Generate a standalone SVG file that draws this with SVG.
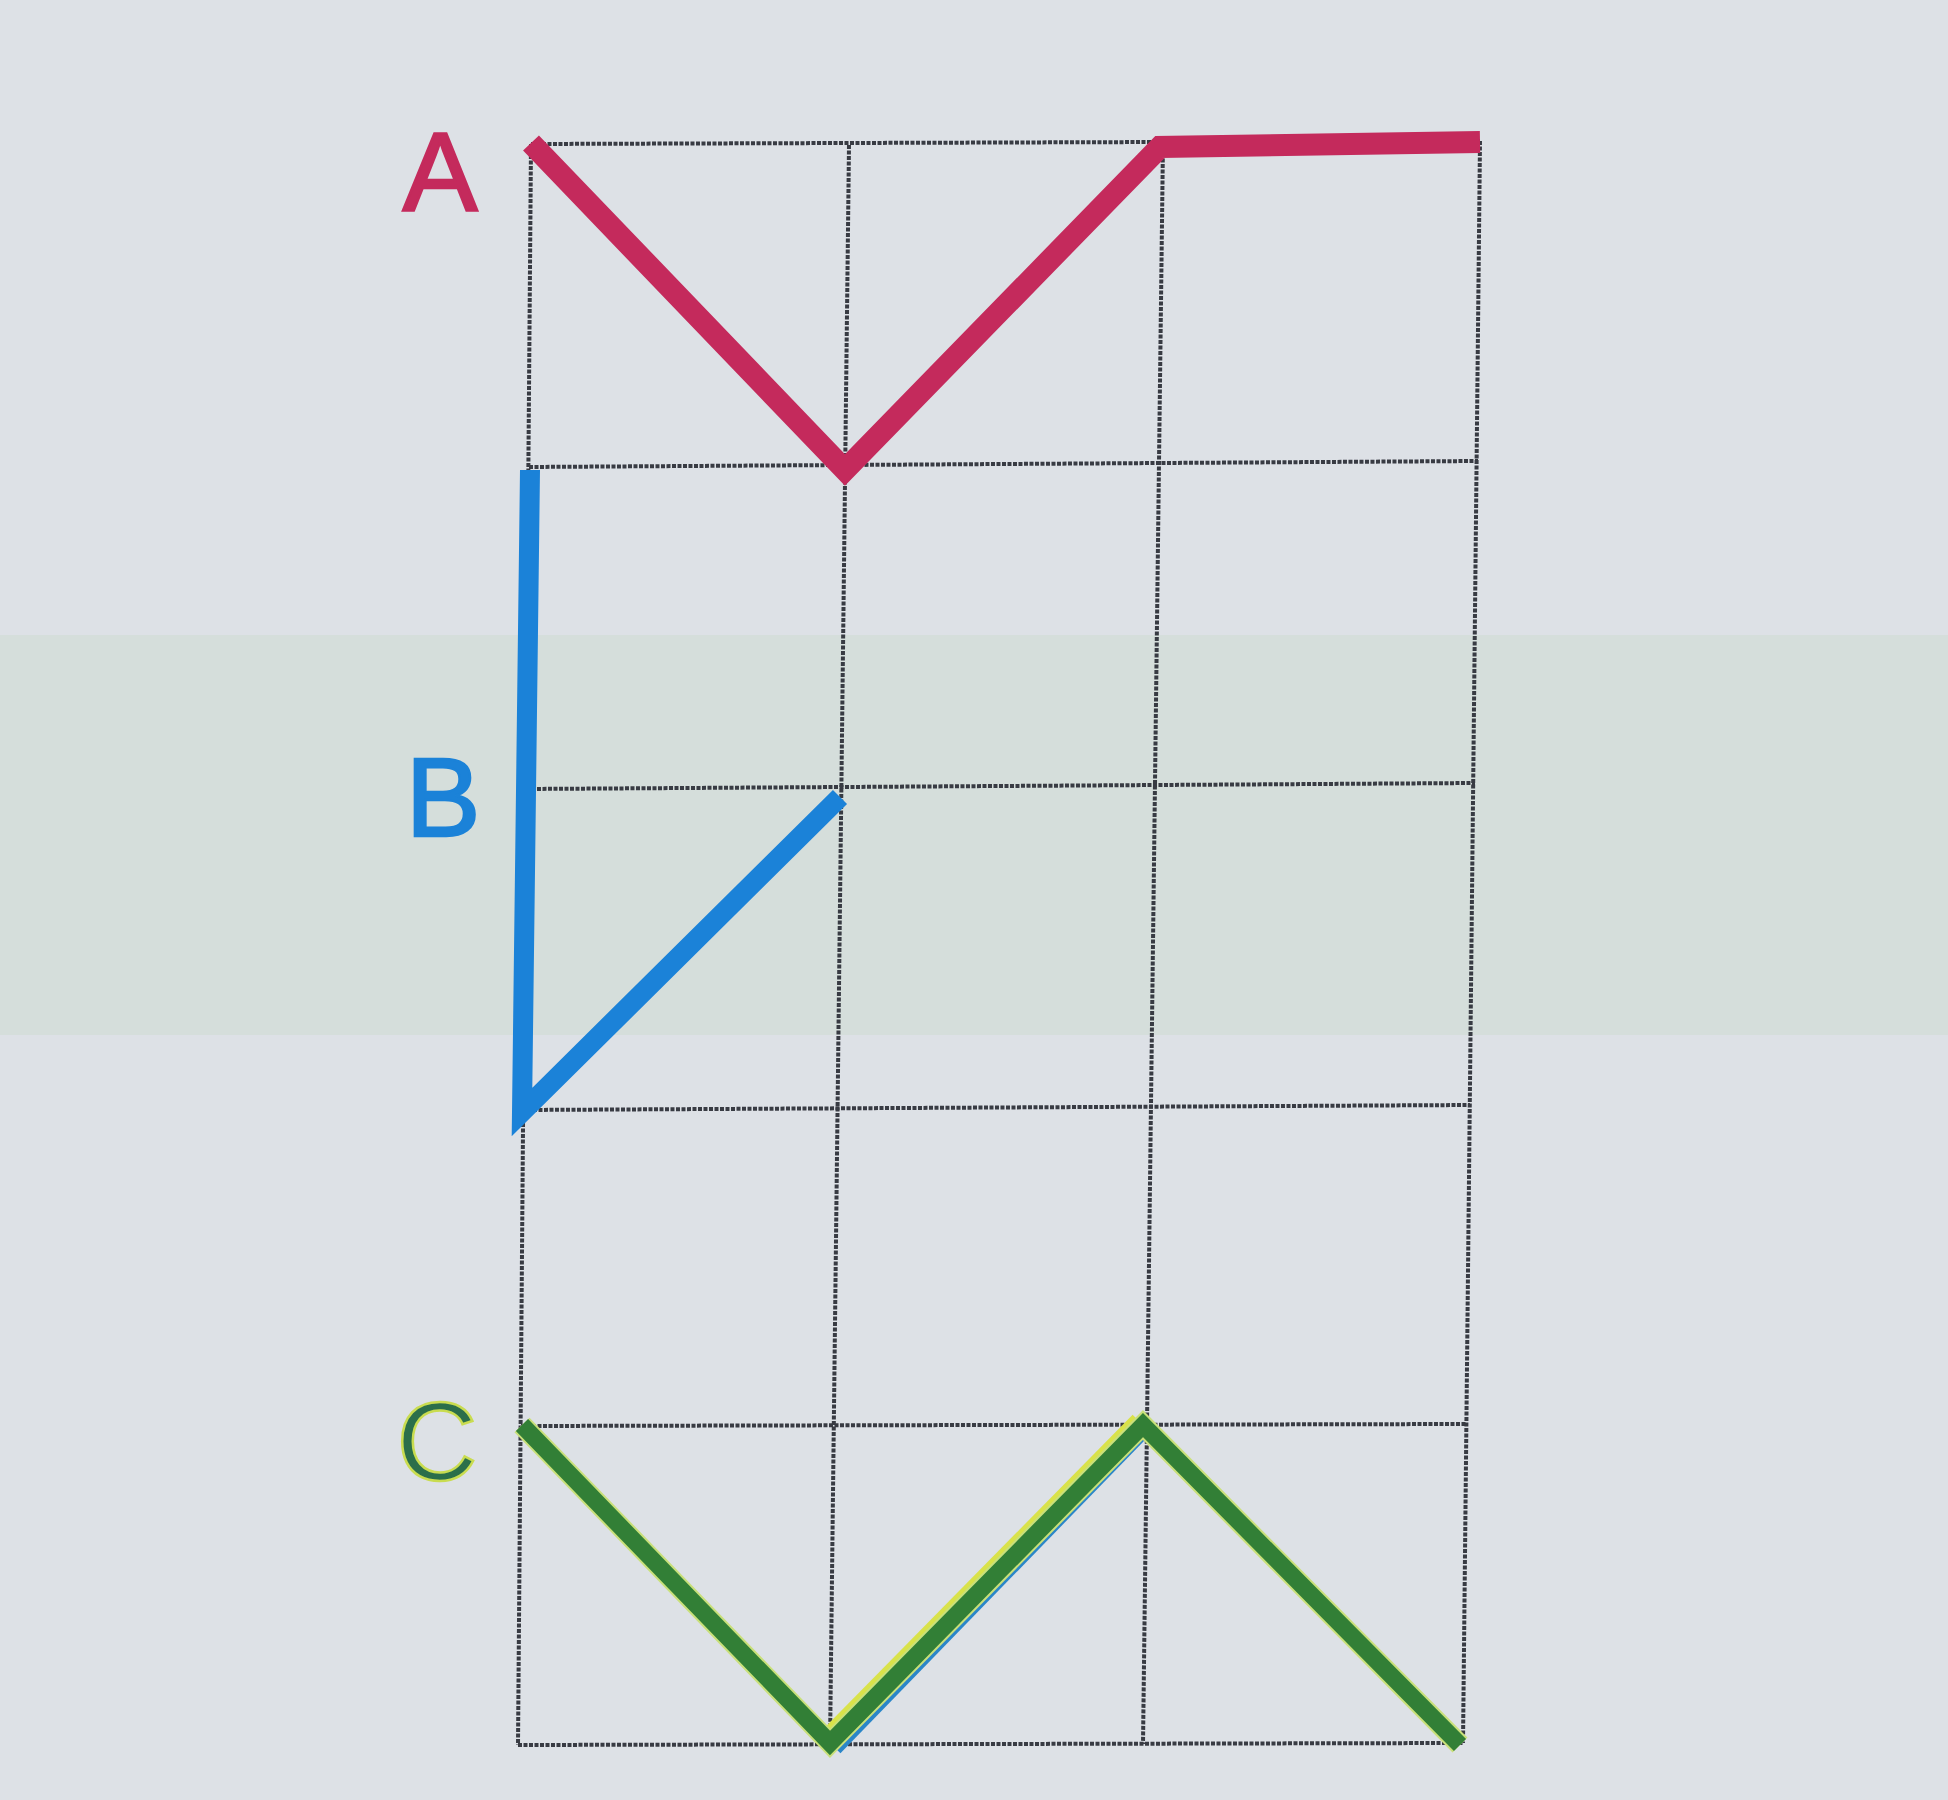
<svg xmlns="http://www.w3.org/2000/svg" width="1948" height="1800" viewBox="0 0 1948 1800">
<style>
.grid{stroke:#383b43;stroke-width:4;fill:none;stroke-dasharray:4 1.5}
.path{fill:none;stroke-linejoin:miter;stroke-linecap:butt}
.lbl{font-family:"Liberation Sans",Arial,sans-serif;font-size:112px;text-anchor:middle;stroke-width:2.5}
</style>
<rect x="0" y="0" width="1948" height="1800" fill="#dde1e6"/>
<rect x="0" y="635" width="1948" height="400" fill="#d3ddd8" opacity="0.8"/>
<g id="grid">
<line class="grid" x1="531" y1="144" x2="1480" y2="141"/>
<line class="grid" x1="529" y1="467" x2="1478" y2="461"/>
<line class="grid" x1="526" y1="789" x2="1475" y2="783"/>
<line class="grid" x1="522" y1="1110" x2="1470" y2="1105"/>
<line class="grid" x1="521" y1="1426" x2="1466" y2="1424"/>
<line class="grid" x1="518" y1="1745" x2="1463" y2="1743"/>
<line class="grid" x1="531" y1="144" x2="518" y2="1745"/>
<line class="grid" x1="849" y1="145" x2="830" y2="1745"/>
<line class="grid" x1="1163" y1="142" x2="1143" y2="1744"/>
<line class="grid" x1="1480" y1="141" x2="1463" y2="1743"/>
</g>
<g id="connectors">
<g id="pathA">
<polyline class="path" points="531,143 845,470 1160,147 1480,142" stroke="#c42a5c" stroke-width="22"/>
</g>
<g id="pathB">
<polyline class="path" points="530,470 522,1112 840,797" stroke="#1b82d8" stroke-width="20"/>
</g>
<g id="pathC">
<polyline class="path" points="834,1747 1147,1425" stroke="#2a86c8" stroke-width="18"/>
<polyline class="path" points="826,1739 1139,1421" stroke="#d9e24a" stroke-width="18"/>
<polyline class="path" points="522,1425 830,1743 1143,1425 1460,1745" stroke="#c9e07a" stroke-width="21"/>
<polyline class="path" points="522,1425 830,1743 1143,1425 1460,1745" stroke="#327f36" stroke-width="17"/>
</g>
</g>
<g id="labelA"><text class="lbl" x="440" y="210" fill="#c42a5c" stroke="#c42a5c">A</text></g>
<g id="labelB"><text class="lbl" x="443" y="836" fill="#1b82d8" stroke="#1b82d8">B</text></g>
<g id="labelC"><text class="lbl" x="437" y="1480" fill="#2b6f4a" stroke="#c9dc50">C</text></g>
</svg>
